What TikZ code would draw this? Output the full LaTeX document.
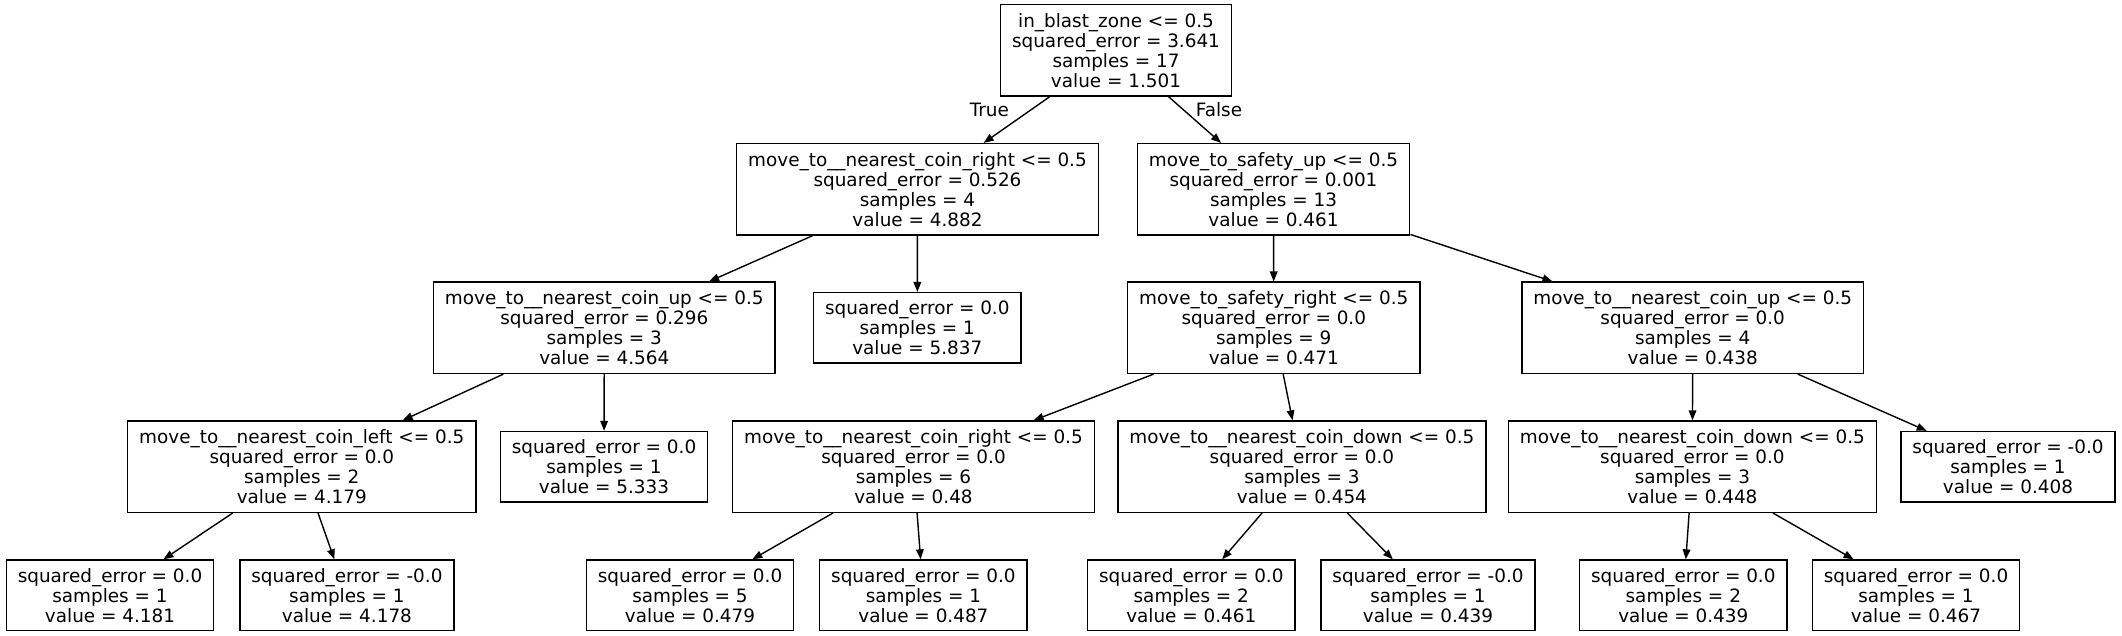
\documentclass[tikz,border=0pt]{standalone}
\usepackage{fontspec}
\setmainfont{DejaVu Sans}
\usetikzlibrary{arrows.meta}
\newcommand{\SplitText}[4]{#1 <= 0.5\\squared\_error = #2\\samples = #3\\value = #4}
\newcommand{\LeafText}[3]{squared\_error = #1\\samples = #2\\value = #3}

\begin{document}
\begin{tikzpicture}[
                    >={Triangle[length=5pt,width=3.8pt]},
                x=0.5pt, y=-0.5pt,
                split/.style={draw, line width=0.7pt, align=center, inner xsep=5.75pt, inner ysep=0pt,
                              minimum height=45.65pt, font=\fontsize{9.2}{10}\selectfont},
                leaf/.style={split, minimum height=35.15pt},
                edgelabel/.style={inner sep=0pt, font=\fontsize{9.2}{10}\selectfont},
                every path/.style={line width=0.7pt}]

                \useasboundingbox (0,0) rectangle (2122,636);

                % level 0 and 1
                \draw(1116,50.3) node[split] (root) {\SplitText{in\_blast\_zone}{3.641}{17}{1.501}};
                \draw(917.5,189.3) node[split] (A1) {\SplitText{move\_to\_\_nearest\_coin\_right}{0.526}{4}{4.882}};
                \draw(1273.5,189.3) node[split] (B1) {\SplitText{move\_to\_safety\_up}{0.001}{13}{0.461}};

                % level 2
                \draw(604.3,327.8) node[split] (A2) {\SplitText{move\_to\_\_nearest\_coin\_up}{0.296}{3}{4.564}};
                \draw(917.3,327.8) node[leaf] (L5837) {\LeafText{0.0}{1}{5.837}};
                \draw(1273.8,327.8) node[split] (B2) {\SplitText{move\_to\_safety\_right}{0.0}{9}{0.471}};
                \draw(1692.7,327.8) node[split] (C2) {\SplitText{move\_to\_\_nearest\_coin\_up}{0.0}{4}{0.438}};

                % level 3
                \draw(301.8,466.7) node[split] (A3) {\SplitText{move\_to\_\_nearest\_coin\_left}{0.0}{2}{4.179}};
                \draw(604,466.7) node[leaf] (L5333) {\LeafText{0.0}{1}{5.333}};
                \draw(913.5,466.7) node[split] (B3) {\SplitText{move\_to\_\_nearest\_coin\_right}{0.0}{6}{0.48}};
                \draw(1301.9,466.7) node[split] (D3) {\SplitText{move\_to\_\_nearest\_coin\_down}{0.0}{3}{0.454}};
                \draw(1692.4,466.7) node[split] (C3) {\SplitText{move\_to\_\_nearest\_coin\_down}{0.0}{3}{0.448}};
                \draw(2008,466.7) node[leaf] (L0408) {\LeafText{-0.0}{1}{0.408}};

                % level 4
                \draw(110,595.2) node[leaf] (L4181) {\LeafText{0.0}{1}{4.181}};
                \draw(346.9,595.2) node[leaf] (L4178) {\LeafText{-0.0}{1}{4.178}};
                \draw(690,595.2) node[leaf] (L0479) {\LeafText{0.0}{5}{0.479}};
                \draw(923.4,595.2) node[leaf] (L0487) {\LeafText{0.0}{1}{0.487}};
                \draw(1191.3,595.2) node[leaf] (L0461) {\LeafText{0.0}{2}{0.461}};
                \draw(1428,595.2) node[leaf] (L0439a) {\LeafText{-0.0}{1}{0.439}};
                \draw(1683.3,595.2) node[leaf] (L0439b) {\LeafText{0.0}{2}{0.439}};
                \draw(1916,595.2) node[leaf] (L0467) {\LeafText{0.0}{1}{0.467}};

                \draw[->] (root) -- node[edgelabel, pos=0.29, left=10.5pt] (true) {True} (A1);
                \draw[->] (root) -- node[edgelabel, pos=0.27, right=6.25pt] (false) {False} (B1);
                \draw[->] (A1) to (A2);
                \draw[->] (A1) to (L5837);
                \draw[->] (A2) to (A3);
                \draw[->] (A2) to (L5333);
                \draw[->] (A3) to (L4181);
                \draw[->] (A3) to (L4178);
                \draw[->] (B1) to (B2);
                \draw[->] (B1) to (C2);
                \draw[->] (B2) to (B3);
                \draw[->] (B2) to (D3);
                \draw[->] (B3) to (L0479);
                \draw[->] (B3) to (L0487);
                \draw[->] (D3) to (L0461);
                \draw[->] (D3) to (L0439a);
                \draw[->] (C2) to (C3);
                \draw[->] (C2) to (L0408);
                \draw[->] (C3) to (L0439b);
                \draw[->] (C3) to (L0467);

            \end{tikzpicture}
\end{document}
